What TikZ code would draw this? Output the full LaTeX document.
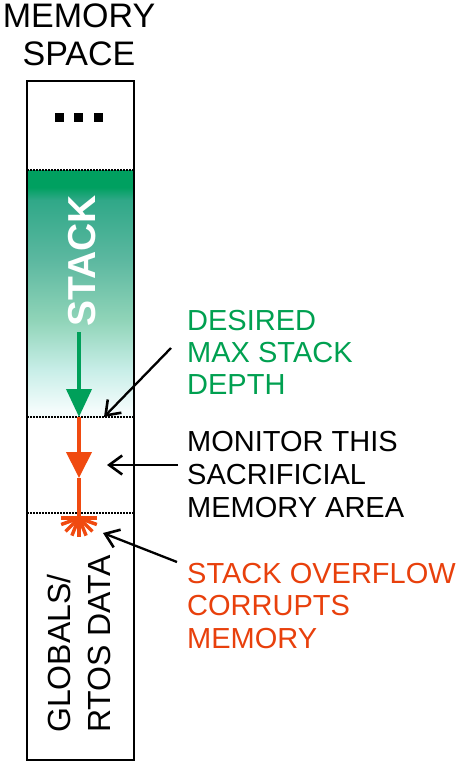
\documentclass[tikz,border=0pt]{standalone}
\usepackage{fontspec}
\setmainfont{Liberation Sans}
\usetikzlibrary{arrows.meta}
\definecolor{stkgreen}{HTML}{00A05A}
\definecolor{txtgreen}{HTML}{00A050}
\definecolor{ovred}{HTML}{F04A10}
\definecolor{txtred}{HTML}{E8400C}
\definecolor{gA}{HTML}{00A060}
\definecolor{gB}{HTML}{30A888}
\definecolor{gC}{HTML}{5CB8A0}
\definecolor{gD}{HTML}{90D4B8}
\definecolor{gE}{HTML}{C8EEE8}
\definecolor{gF}{HTML}{F4FCFC}
\pgfdeclareverticalshading{stackshade}{100bp}{%
  color(0bp)=(gF);
  color(26.4bp)=(gF);
  color(34.5bp)=(gE);
  color(44.6bp)=(gD);
  color(56.8bp)=(gC);
  color(68.9bp)=(gB);
  color(71.5bp)=(gA);
  color(100bp)=(gA)}
\tikzset{
  lbl/.style={anchor=base west, inner sep=0pt, font=\fontsize{29}{33}\selectfont},
  head/.style={anchor=base, inner sep=0pt, font=\fontsize{34}{38}\selectfont},
  dotline/.style={line width=1.5pt, dash pattern=on 1.5pt off 1.5pt},
  callout/.style={line width=2.3pt, -{Straight Barb[length=13pt,width=19pt,line width=2.6pt]}},
  ray/.style={ovred, line width=3.5pt}
}
\begin{document}
\begin{tikzpicture}[x=1pt,y=-1pt]
\useasboundingbox (0,0) rectangle (458,764);
% heading
\node[head] (h1) at (79,27) {MEMORY};
\node[head] (h2) at (79,65) {SPACE};
% stack gradient
\shade[shading=stackshade] (27,170) rectangle (134,417);
% dots
\fill (54.5,113) rectangle (63.5,122);
\fill (74,113) rectangle (83,122);
\fill (93.5,113) rectangle (102.5,122);
% dotted separators
\draw[dotline] (27,170) -- (134,170);
\draw[dotline] (27,417) -- (134,417);
\draw[dotline] (27,513) -- (134,513);
% column frame
\draw[line width=2pt] (27,81) rectangle (134,760);
% STACK text
\node[rotate=90, anchor=base west, inner sep=0pt, text=white, font=\bfseries\fontsize{39}{43}\selectfont] (stk) at (95,327) {STACK};
% green arrow
\coordinate (g0) at (79,332);
\coordinate (g1) at (79,417);
\draw[stkgreen, line width=4pt, -{Triangle[width=25pt,length=28pt]}] (g0) -- (g1);
% red arrow
\coordinate (r1) at (79,478);
\coordinate (star) at (79,518);
\draw[ovred, line width=4pt, -{Triangle[width=25pt,length=26pt]}] (g1) -- (r1);
\draw[ovred, line width=4pt] (r1) -- (star);
% starburst
\draw[ray] (61,518) -- (97,518);
\foreach \a in {-20,-45,-68,-90,-112,-135,-160}
  \draw[ray] (star) -- ++({19*cos(\a)},{-19*sin(\a)});
% globals text
\node[rotate=90, anchor=base west, inner sep=0pt, font=\fontsize{32}{36}\selectfont] (gl1) at (70,733) {GLOBALS/};
\node[rotate=90, anchor=base west, inner sep=0pt, font=\fontsize{32}{36}\selectfont] (gl2) at (110,733) {RTOS DATA};
% labels
\node[lbl, text=txtgreen] (d1) at (187,330) {DESIRED};
\node[lbl, text=txtgreen] (d2) at (187,362) {MAX STACK};
\node[lbl, text=txtgreen] (d3) at (187,394) {DEPTH};
\node[lbl] (m1) at (187,451) {MONITOR THIS};
\node[lbl] (m2) at (187,484) {SACRIFICIAL};
\node[lbl] (m3) at (187,517) {MEMORY AREA};
\node[lbl, text=txtred] (s1) at (187,583) {STACK OVERFLOW};
\node[lbl, text=txtred] (s2) at (187,615) {CORRUPTS};
\node[lbl, text=txtred] (s3) at (187,648) {MEMORY};
% callouts
\coordinate (a1s) at (171,348);
\coordinate (a1e) at (104,417);
\coordinate (a2s) at (178,465);
\coordinate (a2e) at (107,465);
\coordinate (a3s) at (177,562);
\coordinate (a3e) at (103,533);
\draw[callout] (a1s) -- (a1e);
\draw[callout] (a2s) -- (a2e);
\draw[callout] (a3s) -- (a3e);
\end{tikzpicture}
\end{document}
